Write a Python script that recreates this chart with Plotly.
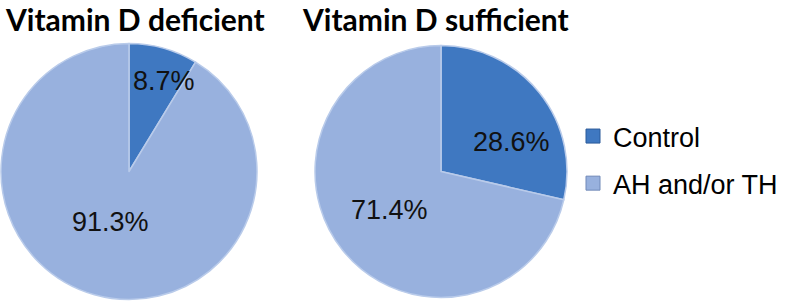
import plotly.graph_objects as go

W, H = 787, 304

categories = ["Control", "AH and/or TH"]
deficient_values = [8.7, 91.3]
sufficient_values = [28.6, 71.4]
titles = ["Vitamin D deficient", "Vitamin D sufficient"]

colors = ["#3f78c1", "#98b1de"]
legend_edge = ["#2a5a9a", "#7089b8"]

def px_x(v):
    return v / W

def px_y(v):
    return 1 - v / H

fig = go.Figure()

# pie domains (pixels): left, right, top, bottom
doms = [(1, 257, 43, 300), (315, 567, 43, 300)]
values_list = [deficient_values, sufficient_values]

for i, (vals, d) in enumerate(zip(values_list, doms)):
    fig.add_trace(go.Pie(
        labels=categories,
        values=vals,
        sort=False,
        direction="clockwise",
        rotation=0,
        marker=dict(colors=colors, line=dict(color="#b9cbea", width=1.5)),
        textinfo="none",
        hoverinfo="label+percent",
        showlegend=False,
        domain=dict(x=[px_x(d[0]), px_x(d[1])], y=[px_y(d[3]), px_y(d[2])]),
    ))

# legend entries
for cat, col, edge in zip(categories, colors, legend_edge):
    fig.add_trace(go.Scatter(
        x=[None], y=[None], mode="markers", name=cat, legendgroup=cat,
        marker=dict(symbol="square", size=14, color=col, line=dict(color=edge, width=1)),
        showlegend=True, hoverinfo="skip",
    ))

# percent labels (pixel positions in the figure)
label_pos = [[(164, 81), (111, 222)], [(511, 142), (389, 210)]]
for vals, poss in zip(values_list, label_pos):
    for v, (x, y) in zip(vals, poss):
        fig.add_annotation(
            x=px_x(x), y=px_y(y), xref="paper", yref="paper",
            text=f"{v:.1f}%", showarrow=False,
            font=dict(family="Liberation Sans, Arial", size=27, color="#111111"),
            xanchor="center", yanchor="middle",
        )

# titles
for t, x in zip(titles, [4, 301]):
    fig.add_annotation(
        x=px_x(x), y=1, xref="paper", yref="paper",
        text=f"<b>{t}</b>", showarrow=False, borderpad=0,
        font=dict(family="Lato, Carlito, Calibri", size=30, color="#000000"),
        xanchor="left", yanchor="top",
    )

fig.update_xaxes(visible=False)
fig.update_yaxes(visible=False)

fig.update_layout(
    width=W, height=H,
    margin=dict(l=0, r=0, t=0, b=0),
    paper_bgcolor="white",
    plot_bgcolor="white",
    legend=dict(
        x=px_x(573), y=px_y(112), xanchor="left", yanchor="top",
        font=dict(family="Liberation Sans, Arial", size=27, color="#000000"),
        itemwidth=30,
        tracegroupgap=9,
        bgcolor="rgba(0,0,0,0)",
    ),
)

fig.write_html("out.html", config={"displayModeBar": False},
               post_script="document.body.style.margin='0';")
